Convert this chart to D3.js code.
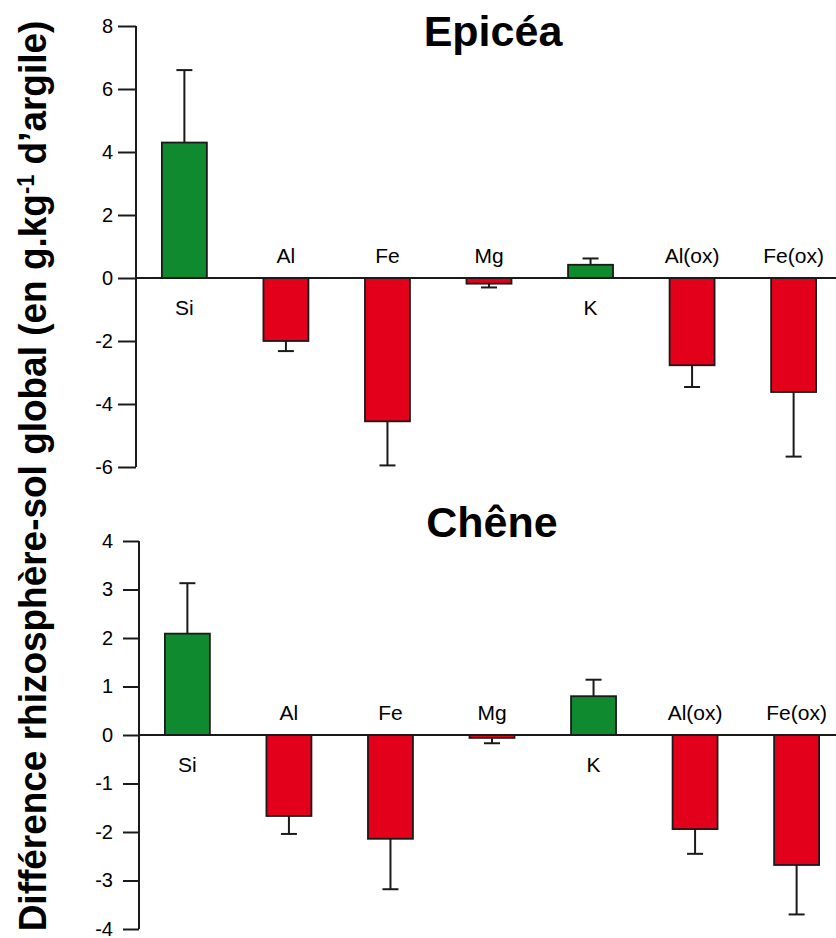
<!DOCTYPE html>
<html>
<head>
<meta charset="utf-8">
<script src="https://cdn.jsdelivr.net/npm/d3@7"></script>
<style>
  html, body { margin: 0; padding: 0; background: #fff; }
  svg { display: block; font-family: "Liberation Sans", Arial, sans-serif; }
</style>
</head>
<body>
<svg id="chart" width="836" height="938"></svg>
<script>
// ---- data ----
const categories = ["Si", "Al", "Fe", "Mg", "K", "Al(ox)", "Fe(ox)"];
const epiceaValues = [4.3, -2.0, -4.55, -0.18, 0.42, -2.77, -3.62];
const epiceaErrors = [2.3, 0.32, 1.4, 0.12, 0.2, 0.69, 2.05];
const cheneValues = [2.09, -1.67, -2.14, -0.06, 0.8, -1.94, -2.68];
const cheneErrors = [1.04, 0.37, 1.04, 0.11, 0.34, 0.51, 1.02];
const epiceaTicks = [8, 6, 4, 2, 0, -2, -4, -6];
const cheneTicks = [4, 3, 2, 1, 0, -1, -2, -3, -4];
const titles = ["Epicéa", "Chêne"];

const GREEN = "#0f8a2f", RED = "#e2001a", INK = "#1a1a1a";
const svg = d3.select("#chart");

function panel(opts) {
  const { values, errors, ticks, domain, yRange, axisX, title, titleX, titleY, tickSize, tickPad } = opts;
  const g = svg.append("g");
  const y = d3.scaleLinear().domain(domain).range(yRange);
  const x = d3.scaleBand().domain(categories).range([axisX, axisX + 706])
    .paddingInner(0.557).paddingOuter(0.255);

  // y axis
  const axis = d3.axisLeft(y).tickValues(ticks).tickSize(tickSize).tickPadding(tickPad)
    .tickFormat(d => String(d));
  const ag = g.append("g").attr("transform", `translate(${axisX},0)`).call(axis);
  ag.select(".domain").attr("stroke", INK).attr("stroke-width", 2)
    .attr("d", `M0,${yRange[0]}V${yRange[1]}`);
  ag.selectAll(".tick line").attr("stroke", INK).attr("stroke-width", 2);
  ag.selectAll(".tick text").attr("fill", "#000").attr("dy", "0.3em").style("font-size", "20px")
    .style("font-family", '"Liberation Sans", Arial, sans-serif');

  const data = categories.map((c, i) => ({ c, v: values[i], e: errors[i] }));

  // bars
  g.selectAll("rect.bar").data(data).join("rect").attr("class", "bar")
    .attr("x", d => x(d.c))
    .attr("width", x.bandwidth())
    .attr("y", d => y(Math.max(0, d.v)))
    .attr("height", d => Math.abs(y(d.v) - y(0)))
    .attr("fill", d => d.v >= 0 ? GREEN : RED)
    .attr("stroke", INK).attr("stroke-width", 1.8);

  // error bars
  const capW = 16;
  const eb = g.selectAll("g.err").data(data).join("g").attr("class", "err");
  eb.append("line")
    .attr("x1", d => x(d.c) + x.bandwidth() / 2).attr("x2", d => x(d.c) + x.bandwidth() / 2)
    .attr("y1", d => y(d.v)).attr("y2", d => y(d.v + Math.sign(d.v) * d.e))
    .attr("stroke", INK).attr("stroke-width", 2);
  eb.append("line")
    .attr("x1", d => x(d.c) + x.bandwidth() / 2 - capW / 2).attr("x2", d => x(d.c) + x.bandwidth() / 2 + capW / 2)
    .attr("y1", d => y(d.v + Math.sign(d.v) * d.e)).attr("y2", d => y(d.v + Math.sign(d.v) * d.e))
    .attr("stroke", INK).attr("stroke-width", 2);

  // zero line
  g.append("line").attr("x1", axisX).attr("x2", 836).attr("y1", y(0)).attr("y2", y(0))
    .attr("stroke", INK).attr("stroke-width", 2);

  // category labels
  g.selectAll("text.cat").data(data).join("text").attr("class", "cat")
    .attr("x", d => x(d.c) + x.bandwidth() / 2)
    .attr("y", d => d.v >= 0 ? y(0) + 37 : y(0) - 15)
    .attr("text-anchor", "middle")
    .style("font-size", "21px").attr("fill", "#000")
    .text(d => d.c);

  // title
  g.append("text").attr("x", titleX).attr("y", titleY).attr("text-anchor", "middle")
    .style("font-size", "43px").style("font-weight", "bold").attr("fill", "#000")
    .text(title);
}

panel({ values: epiceaValues, errors: epiceaErrors, ticks: epiceaTicks, domain: [-6, 8],
  yRange: [467, 26], axisX: 136, title: titles[0], titleX: 493, titleY: 46, tickSize: 18, tickPad: 5 });
panel({ values: cheneValues, errors: cheneErrors, ticks: cheneTicks, domain: [-4, 4],
  yRange: [929, 541], axisX: 139, title: titles[1], titleX: 492, titleY: 537, tickSize: 16, tickPad: 10 });

// y-axis title
const yt = svg.append("text")
  .attr("text-anchor", "middle")
  .style("font-size", "39px").style("font-weight", "bold").attr("fill", "#000");
yt.append("tspan").text("Différence rhizosphère-sol global (en g.kg");
yt.append("tspan").attr("baseline-shift", "super").style("font-size", "23px").text("-1");
yt.append("tspan").text(" d’argile)");
const natural = yt.node().getComputedTextLength();
const sx = 911 / natural;
yt.attr("transform", `translate(46,476) rotate(-90) scale(${sx},1)`);
</script>
</body>
</html>
